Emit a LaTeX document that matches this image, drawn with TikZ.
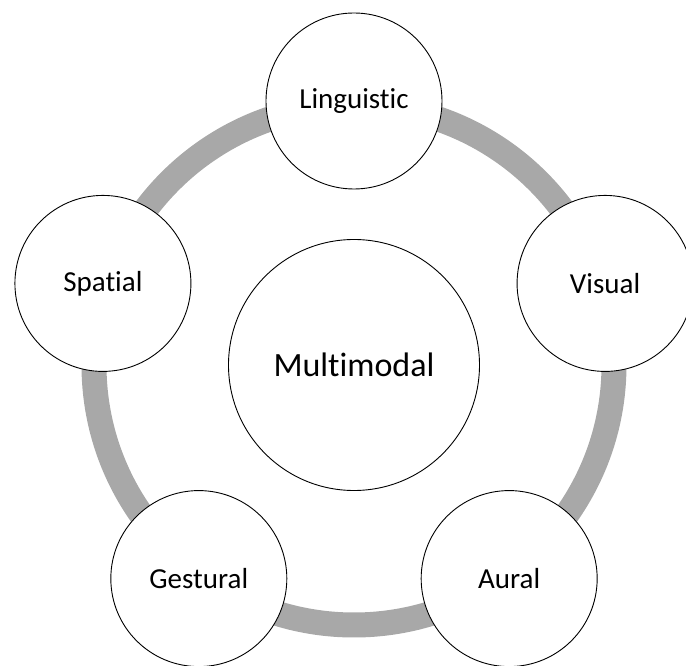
\documentclass[tikz,border=0pt]{standalone}
\usepackage{fontspec}
\setmainfont{Carlito}[Ligatures={NoCommon}]
\usepackage{tikz}
\definecolor{ringgray}{RGB}{168,168,168}

\begin{document}
\begin{tikzpicture}[x=1pt, y=1pt,
    main/.style = {draw, circle, fill=white, line width=0.9pt, minimum size=176pt, inner sep=0pt, font=\fontsize{29}{35}\selectfont},
    hub/.style = {main, minimum size=251pt, font=\fontsize{34}{40}\selectfont}]
            \useasboundingbox (-354,-301) rectangle (332,365);

            % ring behind the outer circles
            \draw[ringgray, line width=25pt] (0,0) circle (260);

            \node[hub] (M) at (0,0) {Multimodal};
            \node[main] (L) at (90:264) {Linguistic};
            \node[main] (V) at (18:264) {Visual};
            \node[main] (A) at (-54:264) {Aural};
            \node[main] (G) at (-126:264) {Gestural};
            \node[main] (S) at (162:264) {Spatial};
        \end{tikzpicture}
\end{document}
